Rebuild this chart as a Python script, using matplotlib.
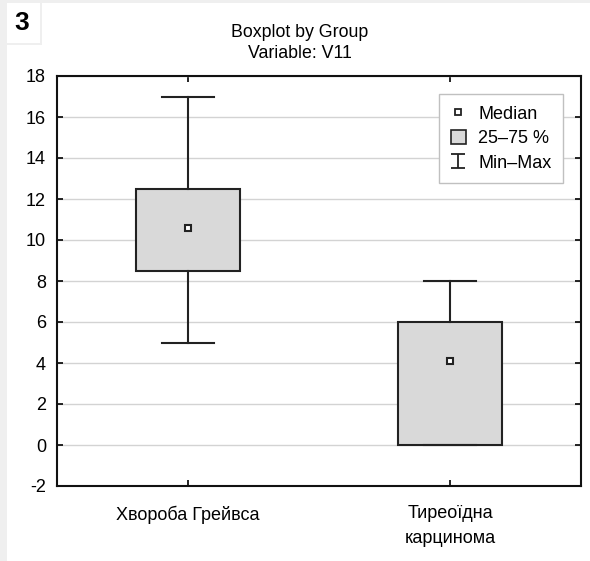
import matplotlib
matplotlib.use('Agg')
import matplotlib.pyplot as plt
from matplotlib.patches import Rectangle, Patch
from matplotlib.lines import Line2D
from matplotlib.path import Path

plt.rcParams['font.family'] = ['Liberation Sans', 'DejaVu Sans']
plt.rcParams['axes.unicode_minus'] = False

# data
groups = ['Хвороба Грейвса', 'Тиреоїдна\nкарцинома']
medians = [10.6, 4.1]
q1 = [8.5, 0.0]
q3 = [12.5, 6.0]
mins = [5.0, 0.0]
maxs = [17.0, 8.0]
yticks = list(range(-2, 19, 2))

fig = plt.figure(figsize=(5.9, 5.61), dpi=100, facecolor='#efefef')

# white panels (label box + main panel), kept behind the axes
for x0, y0, w, h in [(7, 3, 33, 40), (42, 3, 548, 42), (7, 45, 583, 516)]:
    fig.patches.append(Rectangle((x0/590, 1-(y0+h)/561), w/590, h/561,
                                 transform=fig.transFigure, facecolor='white',
                                 edgecolor='none', zorder=-5))

fig.text(22/590, 1-23/561, '3', fontsize=19, fontweight='bold', ha='center', va='center')
fig.text(300/590, 1-43/561, 'Boxplot by Group\nVariable: V11', fontsize=12.8,
         ha='center', va='center', linespacing=1.35)

ax = fig.add_axes([57/590, 1-486/561, 524/590, 410/561])
ax.set_facecolor('white')

stats = []
for i in range(len(groups)):
    stats.append({'med': medians[i], 'q1': q1[i], 'q3': q3[i],
                  'whislo': mins[i], 'whishi': maxs[i], 'fliers': []})

positions = [1, 2]
ax.bxp(stats, positions=positions, widths=0.4, capwidths=0.2, patch_artist=True,
       showfliers=False,
       boxprops=dict(facecolor='#d9d9d9', edgecolor='#222222', linewidth=1.5),
       whiskerprops=dict(color='#222222', linewidth=1.5),
       capprops=dict(color='#222222', linewidth=1.5),
       medianprops=dict(linewidth=0), zorder=3)
ax.plot(positions, medians, linestyle='none', marker='s', markersize=5,
        markerfacecolor='white', markeredgecolor='#222222', markeredgewidth=1.5, zorder=4)

ax.set_xlim(0.5, 2.5)
ax.set_ylim(-2, 18)
ax.set_yticks(yticks)
ax.set_xticks(positions)
ax.set_xticklabels(groups, linespacing=1.55)
ax.grid(axis='y', color='#d3d3d3', linewidth=1)
ax.set_axisbelow(True)
ax.tick_params(direction='in', length=4, width=1.2, labelsize=13,
               top=True, right=True, pad=8)
ax.tick_params(axis='x', pad=14)
for s in ax.spines.values():
    s.set_linewidth(1.5)
    s.set_color('#111111')

# legend
ibeam = Path([(-1, 1), (1, 1), (0, 1), (0, -1), (-1, -1), (1, -1)],
             [Path.MOVETO, Path.LINETO, Path.MOVETO, Path.LINETO, Path.MOVETO, Path.LINETO])
handles = [
    Line2D([], [], linestyle='none', marker='s', markersize=4, markerfacecolor='white',
           markeredgecolor='#222222', markeredgewidth=1.3),
    Patch(facecolor='#d9d9d9', edgecolor='#222222', linewidth=1.2),
    Line2D([], [], linestyle='none', marker=ibeam, markersize=10, markeredgecolor='#222222',
           markeredgewidth=1.3, markerfacecolor='none'),
]
leg = ax.legend(handles, ['Median', '25–75 %', 'Min–Max'], loc='upper right',
                bbox_to_anchor=(0.966, 0.956), borderaxespad=0, fontsize=13,
                fancybox=False, framealpha=1, edgecolor='#c0c0c0', handlelength=0.8,
                handleheight=0.8, handletextpad=0.7, labelspacing=0.4, borderpad=0.65)
leg.get_frame().set_linewidth(1)

fig.savefig('out.png', dpi=100, facecolor=fig.get_facecolor())
